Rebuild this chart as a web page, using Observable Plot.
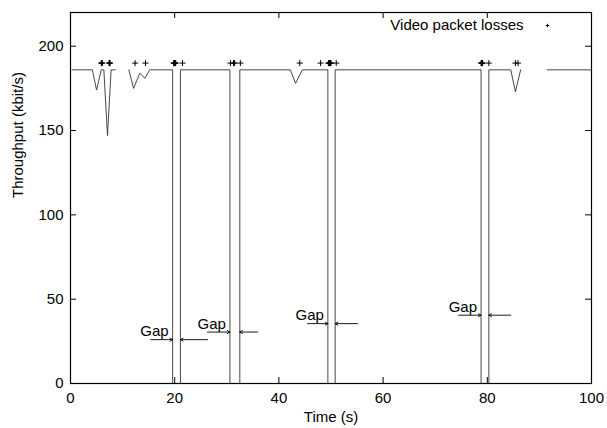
<!DOCTYPE html>
<html><head><meta charset="utf-8">
<script src="https://cdn.jsdelivr.net/npm/d3@7"></script>
<script src="https://cdn.jsdelivr.net/npm/@observablehq/plot@0.6"></script>
<style>body{margin:0;background:#fff}</style>
</head><body><div id="chart"></div>
<script>
const xTicks = [0, 20, 40, 60, 80, 100];
const yTicks = [0, 50, 100, 150, 200];

// Throughput trace (NaN = no sample, the trace is broken there)
const time = [0.3, 4.2, 5.0, 5.9, 6.4, 7.1, 7.8, 8.6, 9.9, 11.2, 12.1, 13.3, 14.3, 15.2,
  19.6, 19.6, 21.1, 21.1, 30.6, 30.6, 32.5, 32.5, 42.2, 43.2, 44.5,
  49.4, 49.4, 50.8, 50.8, 78.8, 78.8, 80.3, 80.3, 84.5, 85.4, 86.4, 89.0, 91.5, 100];
const throughput = [186, 186, 174, 186, 186, 147, 186, 186, NaN, 186, 175, 184, 181, 186,
  186, 0, 0, 186, 186, 0, 0, 186, 186, 178, 186,
  186, 0, 0, 186, 186, 0, 0, 186, 186, 173, 186, NaN, 186, 186];

// Video packet losses (time of each lost packet)
const lossTimes = [5.9, 6.0, 6.1, 7.4, 7.5, 7.6, 12.4, 14.4,
  19.8, 19.9, 20.0, 20.1, 20.2, 21.5,
  30.7, 31.3, 31.5, 32.6, 44.0, 48.0,
  49.5, 49.6, 49.7, 49.8, 49.9, 50.0, 51.0,
  78.8, 78.9, 79.0, 79.1, 80.3, 85.4, 85.9];
const lossLevel = 190;

// Gap annotations
const gapStart = [19.6, 30.6, 49.4, 78.8];
const gapEnd = [21.1, 32.5, 50.8, 80.3];
const gapArrowY = [26, 30.5, 35.5, 40.5];
const leftArrowFrom = [15.4, 26.3, 45.5, 74.5];
const rightArrowFrom = [26.3, 35.9, 55.1, 84.5];

const series = time.map((t, i) => ({t, v: throughput[i]}));
const losses = lossTimes.map(t => ({t, v: lossLevel}));
const gaps = gapStart.map((s, i) => ({s, e: gapEnd[i], y: gapArrowY[i], lf: leftArrowFrom[i], rf: rightArrowFrom[i]}));

const font = "'Liberation Sans', Arial, Helvetica, sans-serif";

const chart = Plot.plot({
  width: 607,
  height: 428,
  marginLeft: 70,
  marginRight: 16,
  marginTop: 12,
  marginBottom: 45,
  style: {fontFamily: font, fontSize: "15px", background: "#fff", color: "#000"},
  x: {domain: [0, 100]},
  y: {domain: [0, 220]},
  marks: [
    Plot.axisX({ticks: xTicks, tickSize: 0, tickPadding: 9, label: null, fontSize: 15}),
    Plot.axisY({ticks: yTicks, tickSize: 0, tickPadding: 7, label: null, fontSize: 15}),
    // inward ticks on all four sides
    Plot.ruleX(xTicks, {x: d => d, insetTop: 365, stroke: "#000"}),
    Plot.ruleX(xTicks, {x: d => d, insetBottom: 365, stroke: "#000"}),
    Plot.ruleY(yTicks, {y: d => d, insetRight: 515, stroke: "#000"}),
    Plot.ruleY(yTicks, {y: d => d, insetLeft: 515, stroke: "#000"}),
    Plot.line(series, {x: "t", y: "v", stroke: "#333", strokeWidth: 0.9}),
    Plot.dot(losses, {x: "t", y: "v", symbol: "plus", r: 2.1, stroke: "#000", strokeWidth: 1}),
    Plot.arrow(gaps, {x1: "lf", x2: "s", y1: "y", y2: "y", stroke: "#000", strokeWidth: 0.9, headLength: 5}),
    Plot.arrow(gaps, {x1: "rf", x2: "e", y1: "y", y2: "y", stroke: "#000", strokeWidth: 0.9, headLength: 5}),
    Plot.text(gaps, {x: "s", y: "y", text: () => "Gap", textAnchor: "end", dx: -4, dy: -8, fontSize: 15, fill: "#000"}),
    // legend
    Plot.text(["Video packet losses"], {frameAnchor: "top-right", text: d => d, textAnchor: "end", lineAnchor: "middle", dx: -68, dy: 13, fontSize: 15, fill: "#000"}),
    Plot.dot([0], {frameAnchor: "top-right", dx: -44, dy: 13, symbol: "plus", r: 1.2, stroke: "#000", strokeWidth: 1}),
    // axis titles
    Plot.text(["Throughput (kbit/s)"], {frameAnchor: "left", text: d => d, rotate: -90, dx: -52, fontSize: 15, fill: "#000"}),
    Plot.text(["Time (s)"], {frameAnchor: "bottom", text: d => d, lineAnchor: "middle", dy: 34, fontSize: 15, fill: "#000"}),
    Plot.frame({stroke: "#000", strokeWidth: 1.2})
  ]
});
document.getElementById("chart").append(chart);
</script>
</body></html>
